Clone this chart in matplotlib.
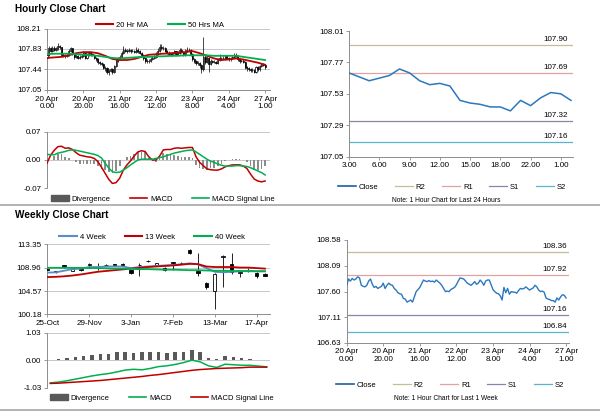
import matplotlib
matplotlib.use('Agg')
import matplotlib.pyplot as plt
from matplotlib.lines import Line2D
from matplotlib.patches import Patch
import matplotlib.transforms as mtransforms

plt.rcParams['font.family'] = ['Liberation Sans', 'DejaVu Sans']

# ---------------- hourly data (last week, 1 hour bars) ----------------
hourly_close = [
    107.72, 107.84, 107.80, 107.85, 107.82, 107.84, 107.88, 107.86, 107.72, 107.70,
    107.69, 107.72, 107.80, 107.84, 107.74, 107.68, 107.70, 107.66, 107.68, 107.70,
    107.76, 107.66, 107.72, 107.76, 107.73, 107.72, 107.66, 107.63, 107.58, 107.56,
    107.55, 107.47, 107.46, 107.40, 107.42, 107.44, 107.40, 107.50, 107.60, 107.64,
    107.68, 107.75, 107.82, 107.80, 107.79, 107.81, 107.79, 107.80, 107.78, 107.82,
    107.79, 107.76, 107.72, 107.66, 107.60, 107.61, 107.60, 107.64, 107.66, 107.68,
    107.73, 107.80, 107.86, 107.85, 107.84, 107.80, 107.76, 107.74, 107.72, 107.75,
    107.79, 107.74, 107.76, 107.82, 107.78, 107.72, 107.80, 107.82, 107.82, 107.73,
    107.64, 107.60, 107.57, 107.56, 107.52, 107.44, 107.68, 107.58, 107.66, 107.55,
    107.60, 107.59, 107.59, 107.57, 107.62, 107.66, 107.65, 107.66, 107.69, 107.66,
    107.63, 107.65, 107.67, 107.72, 107.69, 107.63, 107.60, 107.61, 107.59, 107.48,
    107.46, 107.45, 107.43, 107.43, 107.40, 107.48, 107.44, 107.50, 107.54, 107.53,
    107.48,
]
hourly_high = [
    107.76, 107.88, 107.87, 107.89, 107.88, 107.87, 107.94, 107.91, 107.87, 107.75,
    107.73, 107.75, 107.83, 107.86, 107.85, 107.76, 107.73, 107.72, 107.71, 107.73,
    107.79, 107.77, 107.75, 107.79, 107.78, 107.75, 107.73, 107.68, 107.65, 107.60,
    107.58, 107.56, 107.50, 107.48, 107.45, 107.47, 107.46, 107.53, 107.63, 107.68,
    107.72, 107.79, 107.88, 107.85, 107.83, 107.84, 107.83, 107.83, 107.82, 107.86,
    107.84, 107.81, 107.78, 107.73, 107.67, 107.64, 107.63, 107.67, 107.69, 107.71,
    107.77, 107.84, 107.92, 107.93, 107.88, 107.86, 107.82, 107.79, 107.76, 107.78,
    107.82, 107.80, 107.79, 107.85, 107.84, 107.79, 107.83, 107.86, 107.85, 107.83,
    107.75, 107.66, 107.62, 107.60, 107.58, 107.54, 108.06, 107.71, 107.70, 107.67,
    107.63, 107.62, 107.62, 107.61, 107.65, 107.74, 107.68, 107.69, 107.72, 107.71,
    107.68, 107.68, 107.70, 107.75, 107.76, 107.71, 107.65, 107.64, 107.63, 107.61,
    107.51, 107.49, 107.47, 107.46, 107.45, 107.51, 107.50, 107.53, 107.57, 107.56,
    107.55,
]
hourly_low = [
    107.63, 107.70, 107.77, 107.78, 107.79, 107.80, 107.82, 107.83, 107.69, 107.67,
    107.66, 107.67, 107.70, 107.78, 107.71, 107.64, 107.65, 107.63, 107.64, 107.66,
    107.68, 107.63, 107.64, 107.70, 107.70, 107.69, 107.63, 107.60, 107.55, 107.53,
    107.51, 107.44, 107.42, 107.35, 107.33, 107.39, 107.36, 107.38, 107.48, 107.58,
    107.62, 107.66, 107.73, 107.77, 107.76, 107.77, 107.76, 107.77, 107.75, 107.76,
    107.76, 107.73, 107.69, 107.62, 107.57, 107.57, 107.57, 107.58, 107.62, 107.64,
    107.66, 107.71, 107.78, 107.82, 107.81, 107.77, 107.73, 107.71, 107.69, 107.70,
    107.73, 107.71, 107.72, 107.74, 107.75, 107.69, 107.70, 107.78, 107.79, 107.70,
    107.61, 107.56, 107.53, 107.52, 107.47, 107.38, 107.41, 107.55, 107.56, 107.40,
    107.52, 107.56, 107.56, 107.54, 107.55, 107.60, 107.62, 107.63, 107.64, 107.63,
    107.60, 107.61, 107.63, 107.65, 107.67, 107.60, 107.57, 107.58, 107.56, 107.45,
    107.42, 107.41, 107.40, 107.40, 107.37, 107.38, 107.41, 107.42, 107.48, 107.50,
    107.45,
]
first_open = 107.66
hourly_ticks = [0, 20, 40, 60, 80, 100, 120]
hourly_labels = ['20 Apr\n0.00', '20 Apr\n20.00', '21 Apr\n16.00', '22 Apr\n12.00',
                 '23 Apr\n8.00', '24 Apr\n4.00', '27 Apr\n1.00']

# moving averages, read every 4th hour
ma_idx = list(range(0, 121, 4))
ma20 = [107.66, 107.67, 107.68, 107.71, 107.75, 107.77, 107.77, 107.75, 107.70, 107.64,
        107.62, 107.62, 107.64, 107.68, 107.72, 107.73, 107.74, 107.75, 107.76, 107.77,
        107.79, 107.75, 107.70, 107.65, 107.62, 107.63, 107.65, 107.63, 107.60, 107.57,
        107.53]
ma50 = [107.73, 107.74, 107.74, 107.74, 107.73, 107.72, 107.71, 107.70, 107.68, 107.66,
        107.65, 107.66, 107.67, 107.68, 107.68, 107.69, 107.69, 107.70, 107.70, 107.71,
        107.71, 107.71, 107.71, 107.70, 107.70, 107.70, 107.70, 107.68, 107.66, 107.64,
        107.62]

# hourly MACD, read every 2nd hour
macd_idx = list(range(0, 121, 2))
macd_h = [-0.008, 0.012, 0.024, 0.033, 0.034, 0.029, 0.030, 0.026, 0.018, 0.012,
          0.010, 0.008, 0.007, 0.004, -0.004, -0.018, -0.033, -0.048, -0.058, -0.056,
          -0.045, -0.025, -0.012, -0.002, 0.010, 0.020, 0.023, 0.021, 0.008, 0.000,
          0.000, 0.010, 0.025, 0.026, 0.026, 0.029, 0.030, 0.029, 0.030, 0.031,
          0.031, 0.008, -0.006, -0.014, -0.022, -0.024, -0.025, -0.025, -0.022, -0.017,
          -0.014, -0.012, -0.012, -0.012, -0.015, -0.021, -0.035, -0.047, -0.052, -0.054,
          -0.052]
signal_h = [0.014, 0.013, 0.013, 0.017, 0.019, 0.021, 0.024, 0.025, 0.024, 0.022,
            0.020, 0.018, 0.016, 0.014, 0.011, 0.005, -0.008, -0.020, -0.029, -0.031,
            -0.030, -0.025, -0.019, -0.012, -0.006, 0.000, 0.002, 0.002, 0.002, 0.002,
            0.004, 0.006, 0.008, 0.011, 0.014, 0.017, 0.019, 0.021, 0.023, 0.024,
            0.025, 0.020, 0.014, 0.008, 0.002, -0.003, -0.006, -0.010, -0.013, -0.015,
            -0.015, -0.015, -0.014, -0.014, -0.015, -0.016, -0.019, -0.023, -0.027, -0.031,
            -0.037]
div_h = [-0.020, -0.001, 0.011, 0.016, 0.015, 0.008, 0.006, 0.001, -0.006, -0.010,
         -0.010, -0.010, -0.009, -0.010, -0.015, -0.023, -0.025, -0.030, -0.033, -0.028,
         -0.015, 0.000, 0.007, 0.010, 0.016, 0.020, 0.021, 0.019, 0.006, -0.002,
         -0.004, 0.004, 0.017, 0.015, 0.012, 0.012, 0.011, 0.008, 0.007, 0.007,
         0.006, -0.012, -0.020, -0.022, -0.024, -0.021, -0.019, -0.015, -0.009, -0.002,
         0.001, 0.003, 0.002, 0.002, 0.000, -0.005, -0.016, -0.024, -0.025, -0.023,
         -0.015]

# pivot levels
level_names = ['R2', 'R1', 'S1', 'S2']
level_colors = ['#C4BD97', '#E0A3A2', '#8A84A8', '#5BB4CF']
levels_day = [107.90, 107.69, 107.32, 107.16]
levels_week = [108.36, 107.92, 107.16, 106.84]
day_ticks = [0, 3, 6, 9, 12, 15, 18, 21]
day_labels = ['3.00', '6.00', '9.00', '12.00', '15.00', '18.00', '22.00', '1.00']
day_points = 23

# ---------------- weekly data ----------------
weekly_labels = ['25-Oct', '29-Nov', '3-Jan', '7-Feb', '13-Mar', '17-Apr']
weekly_ticks = [0, 5, 10, 15, 20, 25]
w_open = [108.8, 108.3, 109.4, 108.4, 108.7, 109.4, 109.0, 109.5, 109.6, 109.7,
          108.5, 109.5, 110.3, 109.4, 109.0, 110.1, 109.9, 112.3, 108.4, 106.1,
          104.6, 111.0, 109.6, 107.9, 108.4, 108.05, 107.8]
w_close = [108.6, 108.2, 109.2, 109.0, 108.6, 109.7, 108.9, 109.4, 109.5, 109.4,
           108.05, 109.4, 110.2, 109.8, 108.5, 109.8, 109.85, 111.8, 107.9, 105.3,
           107.85, 111.1, 108.2, 108.2, 108.35, 107.5, 107.5]
w_high = [108.9, 108.4, 109.5, 109.1, 108.8, 109.8, 109.8, 109.7, 109.7, 109.8,
          108.6, 109.8, 110.5, 109.9, 109.1, 110.1, 110.0, 112.5, 111.8, 106.2,
          107.9, 111.4, 111.8, 108.3, 109.0, 108.1, 107.9]
w_low = [108.5, 108.0, 108.9, 108.3, 108.4, 109.0, 108.5, 109.3, 109.4, 109.3,
         107.8, 107.5, 110.0, 109.2, 108.4, 108.5, 109.7, 111.6, 107.5, 104.9,
         101.2, 105.3, 107.85, 107.2, 108.1, 107.1, 107.4]
ma4w = [108.05, 108.1, 108.4, 108.7, 108.8, 109.1, 109.1, 109.2, 109.2, 109.2,
        108.9, 109.1, 109.2, 109.3, 109.4, 109.5, 109.6, 109.8, 109.6, 108.9,
        108.2, 108.1, 108.2, 108.3, 108.4, 108.3, 108.3]
ma13w = [107.2, 107.25, 107.35, 107.5, 107.7, 107.95, 108.2, 108.35, 108.5, 108.65,
         108.8, 108.95, 109.1, 109.2, 109.3, 109.4, 109.55, 109.7, 109.65, 109.2,
         109.1, 109.1, 109.1, 109.0, 109.0, 108.9, 108.8]
ma40w = [108.95, 108.95, 108.95, 108.95, 108.95, 108.9, 108.9, 108.85, 108.8, 108.8,
         108.75, 108.7, 108.7, 108.65, 108.6, 108.6, 108.55, 108.5, 108.5, 108.45,
         108.4, 108.4, 108.35, 108.35, 108.3, 108.3, 108.3]
macd_w = [-0.85, -0.82, -0.77, -0.71, -0.65, -0.59, -0.54, -0.50, -0.44, -0.37,
          -0.34, -0.36, -0.31, -0.24, -0.21, -0.16, -0.09, 0.00, -0.06, -0.21,
          -0.27, -0.15, -0.17, -0.19, -0.19, -0.22, -0.25]
signal_w = [-0.87, -0.86, -0.84, -0.82, -0.80, -0.78, -0.76, -0.73, -0.70, -0.67,
            -0.64, -0.61, -0.57, -0.54, -0.50, -0.46, -0.42, -0.38, -0.35, -0.33,
            -0.31, -0.30, -0.29, -0.28, -0.26, -0.26, -0.26]
div_w = [0.00, 0.04, 0.10, 0.12, 0.15, 0.21, 0.24, 0.25, 0.29, 0.30,
         0.27, 0.29, 0.32, 0.31, 0.27, 0.29, 0.29, 0.37, 0.29, 0.10,
         0.05, 0.15, 0.11, 0.09, 0.04, 0.01, 0.00]

RED = '#C00000'
GREEN = '#00B050'
BLUE = '#5B8BC9'
CLOSE = '#2A78BE'
AXC = '#8C8C8C'
FS = 5.8
LFS = 5.5

W, H = 600, 413
fig = plt.figure(figsize=(W / 100, H / 100), dpi=100)


def px_axes(x0, y0, x1, y1):
    return fig.add_axes([x0 / W, 1 - y1 / H, (x1 - x0) / W, (y1 - y0) / H])


def style(ax, grid=True, bottom=True):
    for s in ('top', 'right'):
        ax.spines[s].set_visible(False)
    for s in ('left', 'bottom'):
        ax.spines[s].set_color(AXC)
        ax.spines[s].set_linewidth(0.7)
    ax.tick_params(labelsize=FS, length=2.5, width=0.6, color=AXC, pad=1.5)
    if not bottom:
        ax.spines['bottom'].set_visible(False)
        ax.tick_params(axis='x', length=0, labelbottom=False)
    if grid:
        ax.yaxis.grid(True, color='#BFBFBF', lw=0.6)
        ax.set_axisbelow(True)


def yticks(ax, vals):
    ax.set_ylim(vals[0], vals[-1])
    ax.set_yticks(vals)
    ax.set_yticklabels([f'{v:.2f}' for v in vals])


def candles(ax, o, h, l, c, width, lw):
    x = list(range(len(c)))
    ax.vlines(x, l, h, color='black', lw=lw, zorder=2)
    bottoms = [min(a, b) for a, b in zip(o, c)]
    heights = [abs(b - a) for a, b in zip(o, c)]
    colors = ['black' if b < a else 'white' for a, b in zip(o, c)]
    ax.bar(x, heights, bottom=bottoms, width=width, color=colors,
           edgecolor='black', linewidth=lw, zorder=3)


def legend(ax, handles, cx, cy, spacing=2.5):
    ax.legend(handles=handles, loc='center', bbox_to_anchor=(cx / W, 1 - cy / H),
              bbox_transform=fig.transFigure, ncol=len(handles), frameon=False,
              fontsize=LFS, handlelength=2.3, handletextpad=0.4,
              columnspacing=spacing, borderaxespad=0, borderpad=0)


def levels(ax, vals, xfrac):
    trans = mtransforms.blended_transform_factory(ax.transAxes, ax.transData)
    for v, col in zip(vals, level_colors):
        ax.axhline(v, color=col, lw=0.9, zorder=1)
        ax.annotate(f'{v:.2f}', xy=(xfrac, v), xycoords=trans, xytext=(0, 1.5),
                    textcoords='offset points', ha='right', va='bottom', fontsize=5.8)


# titles and separators
fig.text(15 / W, 1 - 9.5 / H, 'Hourly Close Chart', fontsize=7.2, fontweight='bold', va='center')
fig.text(15 / W, 1 - 215.5 / H, 'Weekly Close Chart', fontsize=7.2, fontweight='bold', va='center')
for yy in (205, 410):
    fig.add_artist(Line2D([0, 1], [1 - yy / H] * 2, color='#A6A6A6', lw=1.2))

hourly_open = [first_open] + hourly_close[:-1]

# ---- hourly close chart ----
ax1 = px_axes(47, 29, 270, 90)
style(ax1)
candles(ax1, hourly_open, hourly_high, hourly_low, hourly_close, 0.6, 0.5)
ax1.plot(ma_idx, ma20, color=RED, lw=1.3, zorder=4)
ax1.plot(ma_idx, ma50, color=GREEN, lw=1.3, zorder=4)
yticks(ax1, [107.05, 107.44, 107.83, 108.21])
ax1.set_xlim(0, 122.7)
ax1.set_xticks(hourly_ticks)
ax1.set_xticklabels(hourly_labels, linespacing=1.1)
legend(ax1, [Line2D([], [], color=RED, lw=1.5, label='20 Hr MA'),
             Line2D([], [], color=GREEN, lw=1.5, label='50 Hrs MA')], 160, 25)

# ---- hourly MACD ----
ax2 = px_axes(47, 131.7, 270, 188.3)
style(ax2, bottom=False)
ax2.bar(macd_idx, div_h, width=0.9, color='#8C8C8C', zorder=2)
ax2.plot(macd_idx, macd_h, color=RED, lw=1.1, zorder=3)
ax2.plot(macd_idx, signal_h, color=GREEN, lw=1.1, zorder=3)
ax2.set_ylim(-0.07, 0.07)
ax2.set_yticks([-0.07, 0.0, 0.07])
ax2.set_yticklabels(['-0.07', '0.00', '0.07'])
ax2.set_xlim(0, 122.7)
legend(ax2, [Patch(color='#595959', label='Divergence'),
             Line2D([], [], color=RED, lw=1.2, label='MACD'),
             Line2D([], [], color=GREEN, lw=1.2, label='MACD Signal Line')], 163, 199)

# ---- last 24 hours ----
day_close = hourly_close[-day_points:]
ax3 = px_axes(349, 31, 573, 156.7)
style(ax3, grid=False)
levels(ax3, levels_day, 0.976)
ax3.plot(range(day_points), day_close, color=CLOSE, lw=1.1, zorder=3)
yticks(ax3, [107.05, 107.29, 107.53, 107.77, 108.01])
ax3.set_xlim(0, day_points - 0.8)
ax3.set_xticks(day_ticks)
ax3.set_xticklabels(day_labels)
legend(ax3, [Line2D([], [], color='#1F5F9F', lw=1.2, label='Close')] +
       [Line2D([], [], color=c, lw=0.9, label=n) for n, c in zip(level_names, level_colors)],
       452, 187, spacing=2.2)
fig.text(446 / W, 1 - 201 / H, 'Note: 1 Hour Chart for Last 24 Hours', fontsize=4.8,
         ha='center', va='center')

# ---- weekly close chart ----
ax4 = px_axes(47, 244.5, 270, 314.3)
style(ax4)
candles(ax4, w_open, w_high, w_low, w_close, 0.4, 0.6)
weeks = list(range(len(w_close)))
ax4.plot(weeks, ma4w, color=BLUE, lw=1.3, zorder=4)
ax4.plot(weeks, ma13w, color=RED, lw=1.3, zorder=4)
ax4.plot(weeks, ma40w, color=GREEN, lw=1.3, zorder=4)
yticks(ax4, [100.18, 104.57, 108.96, 113.35])
ax4.set_xlim(-0.05, 26.6)
ax4.set_xticks(weekly_ticks)
ax4.set_xticklabels(weekly_labels)
legend(ax4, [Line2D([], [], color=BLUE, lw=1.5, label='4 Week'),
             Line2D([], [], color=RED, lw=1.5, label='13 Week'),
             Line2D([], [], color=GREEN, lw=1.5, label='40 Week')], 152, 237)

# ---- weekly MACD ----
ax5 = px_axes(47, 332.7, 270, 387.7)
style(ax5, bottom=False)
ax5.bar(weeks, div_w, width=0.42, color='#595959', zorder=2)
ax5.plot(weeks, macd_w, color=GREEN, lw=1.1, zorder=3)
ax5.plot(weeks, signal_w, color=RED, lw=1.1, zorder=3)
ax5.set_ylim(-1.03, 1.03)
ax5.set_yticks([-1.03, 0.0, 1.03])
ax5.set_yticklabels(['-1.03', '0.00', '1.03'])
ax5.set_xlim(-0.4, 26.4)
legend(ax5, [Patch(color='#595959', label='Divergence'),
             Line2D([], [], color=GREEN, lw=1.2, label='MACD'),
             Line2D([], [], color=RED, lw=1.2, label='MACD Signal Line')], 162, 398)

# ---- last week hourly ----
ax6 = px_axes(346.7, 240, 569, 342.7)
style(ax6, grid=False)
levels(ax6, levels_week, 0.99)
ax6.plot(range(len(hourly_close)), hourly_close, color=CLOSE, lw=1.0, zorder=3)
yticks(ax6, [106.63, 107.11, 107.60, 108.09, 108.58])
ax6.set_xlim(0, 121.6)
ax6.set_xticks(hourly_ticks)
ax6.set_xticklabels(hourly_labels, linespacing=1.1)
legend(ax6, [Line2D([], [], color='#1F5F9F', lw=1.2, label='Close')] +
       [Line2D([], [], color=c, lw=0.9, label=n) for n, c in zip(level_names, level_colors)],
       450, 385, spacing=2.2)
fig.text(446 / W, 1 - 398 / H, 'Note: 1 Hour Chart for Last 1 Week', fontsize=4.8,
         ha='center', va='center')

fig.savefig('out.png', dpi=100)
